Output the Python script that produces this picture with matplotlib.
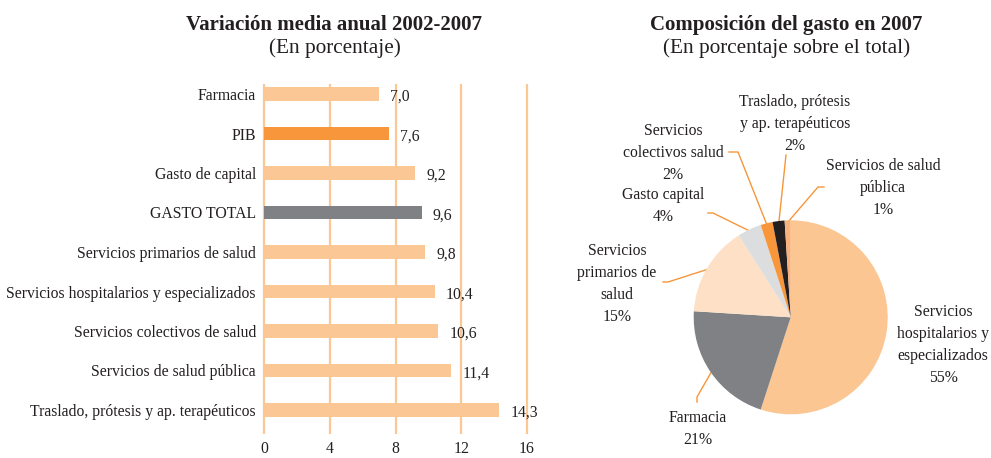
import numpy as np
import matplotlib.pyplot as plt

plt.rcParams['font.family'] = ['Liberation Serif', 'DejaVu Serif']
TEXT = '#231f20'

# Variación media anual 2002-2007 (%)
categorias = ["Farmacia", "PIB", "Gasto de capital", "GASTO TOTAL",
              "Servicios primarios de salud",
              "Servicios hospitalarios y especializados",
              "Servicios colectivos de salud", "Servicios de salud pública",
              "Traslado, prótesis y ap. terapéuticos"]
variacion = [7.0, 7.6, 9.2, 9.6, 9.8, 10.4, 10.6, 11.4, 14.3]
color_barras = ['#fbc794', '#f7963a', '#fbc794', '#808184', '#fbc794',
                '#fbc794', '#fbc794', '#fbc794', '#fbc794']
ticks_x = [0, 4, 8, 12, 16]

# Composición del gasto en 2007 (%)
partidas = ["Servicios\nhospitalarios y\nespecializados", "Farmacia",
            "Servicios\nprimarios de\nsalud", "Gasto capital",
            "Servicios\ncolectivos salud",
            "Traslado, prótesis\ny ap. terapéuticos",
            "Servicios de salud\npública"]
composicion = [55, 21, 15, 4, 2, 2, 1]
color_pie = ['#fbc692', '#808184', '#fde0c5', '#dcddde', '#f7963a',
             '#231f20', '#f9b07a']

FS = 11.3
W, H = 991, 458
fig = plt.figure(figsize=(W / 100, H / 100), dpi=100)

# ---- barras ----
x0, x16 = 264, 527
ppu = (x16 - x0) / 16
xmin, xmax = -0.15, 16.4
top, bottom = 84, 434
ax = fig.add_axes([(x0 + xmin * ppu) / W, 1 - bottom / H,
                   (xmax - xmin) * ppu / W, (bottom - top) / H])
y = np.arange(len(categorias))
ax.barh(y, variacion, height=0.33, color=color_barras, zorder=3)
for v in ticks_x:
    ax.axvline(v, color='#fbc794', lw=1.6, zorder=1)
ax.set_xlim(xmin, xmax)
step = 39.5
ax.set_ylim((bottom - 94) / step, (top - 94) / step)
ax.set_yticks(y)
ax.set_yticklabels(categorias, fontsize=FS, color=TEXT)
ax.set_xticks(ticks_x)
ax.set_xticklabels([str(t) for t in ticks_x], fontsize=FS, color=TEXT)
ax.tick_params(axis='y', length=0, pad=4)
ax.tick_params(axis='x', length=0, pad=5)
for s in ax.spines.values():
    s.set_visible(False)
for yi, v in zip(y, variacion):
    ax.annotate(f"{v:.1f}".replace('.', ','), (v, yi), xytext=(8, -2),
                textcoords='offset points', ha='left', va='center',
                fontsize=FS, color=TEXT)

fig.text(334.5 / W, 1 - 25 / H, "Variación media anual 2002-2007",
         ha='center', va='center', fontsize=15, fontweight='bold', color=TEXT)
fig.text(334.5 / W, 1 - 48 / H, "(En porcentaje)",
         ha='center', va='center', fontsize=15.3, color=TEXT)

# ---- pie ----
cx, cy, r = 790.7, 317.3, 97.0
px_l, px_r, py_t, py_b = 560, 991, 60, 458
axp = fig.add_axes([px_l / W, 1 - py_b / H, (px_r - px_l) / W, (py_b - py_t) / H])
wedges, _ = axp.pie(composicion, colors=color_pie, startangle=90,
                    counterclock=False, radius=1.0, center=(0, 0),
                    wedgeprops=dict(linewidth=0))
axp.set_xlim((px_l - cx) / r, (px_r - cx) / r)
axp.set_ylim(-(py_b - cy) / r, (cy - py_t) / r)
axp.set_aspect('equal', adjustable='box')
axp.axis('off')


def d(px, py):
    return ((px - cx) / r, (cy - py) / r)


# label centre, leader elbow and leader end (pixel positions)
etiquetas = [
    ((943, 345), None, None),
    ((698, 429), (697, 397), (697, 402)),
    ((617, 284), (668, 282), (663, 282)),
    ((663, 206), (713, 213), (708, 213)),
    ((673, 153), (738, 152), (729, 152)),
    ((795, 124), (786, 155), None),
    ((883, 188), (818, 187), (824, 187)),
]
for w, nombre, pct, (pos, codo, fin) in zip(wedges, partidas, composicion, etiquetas):
    tx, ty = d(*pos)
    axp.text(tx, ty, f"{nombre}\n{pct}%", ha='center', va='center',
             fontsize=FS, color=TEXT, linespacing=1.5)
    if codo is None:
        continue
    ang = np.deg2rad((w.theta1 + w.theta2) / 2)
    xs = [np.cos(ang) * 0.98, d(*codo)[0]]
    ys = [np.sin(ang) * 0.98, d(*codo)[1]]
    if fin is not None:
        xs.append(d(*fin)[0])
        ys.append(d(*fin)[1])
    axp.plot(xs, ys, color='#f7963a', lw=1.0, zorder=0)

fig.text(786.5 / W, 1 - 25 / H, "Composición del gasto en 2007",
         ha='center', va='center', fontsize=15, fontweight='bold', color=TEXT)
fig.text(787 / W, 1 - 48 / H, "(En porcentaje sobre el total)",
         ha='center', va='center', fontsize=15.3, color=TEXT)

fig.savefig("out.png", dpi=100)
